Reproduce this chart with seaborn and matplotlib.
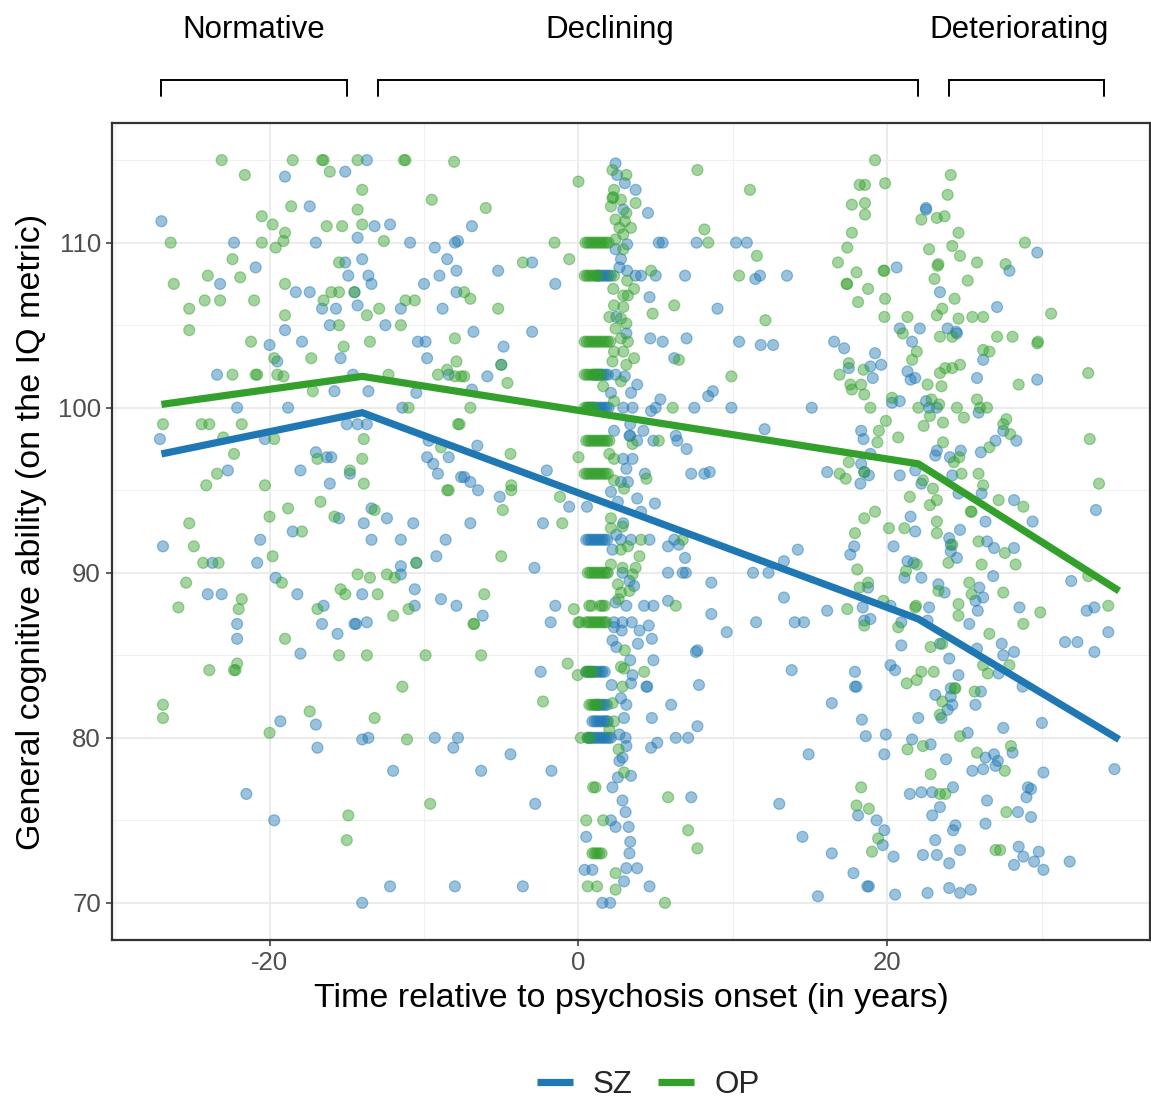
import matplotlib
matplotlib.use("Agg")
import numpy as np
import pandas as pd
import matplotlib.pyplot as plt
import matplotlib.transforms as mtransforms
from matplotlib.lines import Line2D
import seaborn as sns

# === data: (years from onset, IQ) ===
sz_points = [
    (-19.0, 114.0), (-15.1, 114.3), (-13.7, 115), (-27.0, 111.3), (-17.4, 112.2), (-22.3, 110), (-17.0, 110),
    (-13.2, 111.0), (-12.2, 111.1), (-14.3, 110.3), (-10.9, 110), (-9.3, 109.7), (-8.5, 109.0), (-7.9, 108.3),
    (-8.0, 110), (-7.8, 110.1), (-9.0, 108.0), (-10.0, 107.5), (-7.9, 107.0), (-8.8, 106.0), (-20.9, 108.5),
    (-23.2, 107.5), (-18.3, 107.0), (-17.4, 107.0), (-14.5, 107.0), (-16.6, 106.0), (-15.7, 106.0), (-14.3, 106.2),
    (-11.5, 106.0), (-15.1, 108.8), (-14.0, 109.0), (-14.9, 108.0), (-13.6, 108.0), (-13.4, 107.5), (-19.0, 104.7),
    (-17.9, 104.0), (-20.0, 103.8), (-16.1, 105.0), (-12.5, 105.0), (-10.4, 104.0), (-9.9, 104.0), (-19.5, 102.8),
    (-15.4, 103.0), (-9.8, 103.0), (-23.4, 102.0), (-14.6, 102.0), (-8.4, 102.0), (-15.8, 101.0), (-13.6, 101.0),
    (-10.5, 100.9), (-22.1, 100.0), (-18.8, 100.0), (-11.4, 100.0), (-15.0, 99.0), (-14.3, 99.0), (-13.7, 99.0),
    (-27.1, 98.1), (-20.3, 98.1), (-9.7, 98.0), (-17.0, 97.3), (-16.3, 97.0), (-16.0, 97.0), (-9.8, 97.0),
    (-9.4, 96.6), (-8.4, 97.0), (-22.7, 96.2), (-18.0, 96.2), (-14.8, 96.0), (-16.1, 95.4), (-9.1, 96.0),
    (-7.6, 95.8), (-13.4, 93.9), (-15.5, 93.3), (-12.4, 93.3), (-13.9, 93.0), (-10.7, 93.0),
    (-26.9, 91.6), (-20.6, 92.0), (-18.5, 92.5), (-13.4, 92.0), (-11.5, 92.0), (-8.6, 92.0), (-23.7, 90.6),
    (-20.8, 90.6), (-9.2, 91.0), (-11.5, 90.4), (-10.5, 90.6), (-24.0, 88.7), (-23.1, 88.7), (-19.6, 89.7),
    (-18.2, 88.7), (-14.0, 88.7), (-11.5, 89.9), (-10.6, 89.0), (-8.9, 88.4), (-7.9, 88.0), (-10.6, 88.0),
    (-16.5, 88.0), (-22.1, 86.9), (-22.1, 86.0), (-16.6, 86.9), (-14.5, 86.9), (-14.4, 86.9), (-13.7, 87.0),
    (-15.6, 86.3), (-18.0, 85.1), (-19.3, 81.0), (-17.0, 80.8), (-14.0, 79.9), (-13.6, 80.0), (-9.3, 80.0),
    (-7.8, 80.0), (-8.1, 79.4), (-16.9, 79.4), (-12.0, 78.0), (-21.5, 76.6), (-19.7, 75.0), (-12.2, 71.0),
    (-8.0, 71.0), (-14.0, 70.0),
    (-6.9, 111.0), (-5.2, 108.3), (-3.0, 108.8), (-1.5, 107.5), (-6.8, 104.6), (-3.0, 104.6), (-4.85, 103.7),
    (-5.0, 102.6), (-5.9, 101.9), (-6.9, 101.1), (-6.55, 97.7), (-7.4, 95.8), (-7.0, 95.5), (-6.5, 95.0),
    (-5.1, 94.6), (-2.05, 96.2), (-0.6, 94.0), (0.55, 94.0), (-7.0, 93.0), (-2.3, 93.0), (3.7, 113.2),
    (4.5, 111.8), (5.2, 110), (5.45, 110), (7.65, 110), (10.2, 110), (5.0, 108.0), (4.05, 108.0), (6.9, 108.0),
    (4.6, 106.7), (9.0, 106.0), (4.65, 104.2), (5.45, 104.0), (7.0, 104.2), (10.4, 104.0), (6.2, 103.0),
    (8.7, 101.0), (8.4, 100.7), (5.3, 100.5), (5.0, 100.0), (4.7, 99.8), (7.5, 100.0), (9.9, 100.0), (4.2, 98.6),
    (6.3, 98.3), (6.4, 98.0), (7.0, 97.5), (4.85, 98.0), (3.3, 98.3), (4.3, 96.0), (7.3, 96.0), (8.15, 96.0),
    (8.5, 96.1), (4.95, 94.2),
    (2.4, 114.8), (2.5, 114.1), (3.0, 113.6), (2.9, 112.0), (3.15, 109.9), (2.4, 109.6), (2.75, 109.0),
    (2.65, 108.5), (3.15, 108.3), (3.7, 108.0), (2.45, 105.5), (3.1, 104.5), (2.4, 102.0), (3.0, 101.9),
    (3.8, 101.4), (2.1, 100.9), (3.4, 100.9), (2.9, 100.0), (3.5, 100.0), (3.35, 99.0), (2.3, 98.6), (3.35, 98.3),
    (3.8, 98.0), (2.9, 96.9), (3.5, 96.9), (3.1, 96.3), (2.75, 95.5), (3.2, 95.5), (2.1, 94.9), (3.8, 94.5),
    (2.55, 94.3), (4.05, 93.7), (2.9, 93.0),
    (2.45, 92.3), (2.75, 92.0), (3.4, 92.0), (4.6, 92.0), (2.2, 91.4), (2.85, 90.0), (3.3, 89.5), (3.6, 89.2),
    (2.4, 88.2), (3.1, 88.0), (4.25, 88.0), (4.85, 88.0), (2.3, 87.0), (2.85, 87.0), (3.45, 87.0), (2.3, 86.7),
    (2.8, 86.5), (3.95, 86.5), (4.55, 86.8), (4.75, 86.0), (2.2, 85.9), (2.45, 85.5), (3.85, 85.7), (4.85, 84.7),
    (3.35, 84.7), (3.5, 83.8), (3.4, 83.3), (2.15, 83.2), (4.4, 83.1), (2.75, 82.4), (3.1, 82.0), (2.95, 81.2),
    (2.65, 80.2), (3.05, 80.0), (3.1, 79.5), (2.85, 78.8), (2.65, 78.6), (2.55, 77.6), (3.4, 77.7), (2.2, 77.0),
    (2.85, 76.2), (3.05, 75.5), (2.1, 75.0), (2.4, 74.6), (3.25, 74.6), (0.5, 74.0), (3.35, 73.7), (3.3, 73.0),
    (3.1, 72.1), (3.8, 72.1), (2.95, 71.3), (4.6, 71.0),
    (-2.85, 90.3), (-6.2, 87.4), (-1.5, 88.0), (-1.8, 87.0), (-2.45, 84.0), (-4.4, 79.0), (-6.3, 78.0),
    (-1.75, 78.0), (-2.8, 76.0), (-3.6, 71.0), (5.8, 91.6), (6.2, 92.0), (6.5, 91.7), (6.9, 90.9), (5.8, 90.0),
    (6.75, 90.0), (6.95, 90.0), (8.6, 89.4), (5.8, 88.3), (8.6, 87.5), (9.6, 86.4), (7.6, 85.2), (7.7, 85.3),
    (4.45, 83.1), (7.8, 83.2), (6.0, 82.0), (4.75, 81.2), (7.7, 80.7), (4.7, 79.4), (5.1, 79.7), (6.3, 80.0),
    (7.1, 80.0), (7.3, 76.4),
    (10.9, 110), (11.45, 107.8), (11.75, 108.0), (13.5, 108.0), (11.8, 103.8), (12.6, 103.8), (15.1, 100.0),
    (12.05, 98.7), (20.6, 108.5), (22.5, 112.0), (22.5, 112.1), (29.7, 109.4), (27.9, 108.3), (23.4, 107.0),
    (27.1, 106.1), (20.8, 104.8), (22.1, 104.8), (23.9, 104.8), (24.45, 104.6), (24.5, 104.5), (21.6, 104.0),
    (26.2, 102.9), (25.8, 101.8), (29.7, 101.7), (16.55, 104.0), (17.2, 103.6), (19.2, 103.3), (19.6, 102.6),
    (17.5, 102.4), (18.9, 102.5), (19.05, 101.8), (21.3, 102.2), (21.5, 101.7), (21.8, 101.8), (20.3, 100.3),
    (20.8, 100.4), (22.5, 100.4), (22.7, 100.0), (23.2, 100.0), (25.9, 99.7), (18.3, 98.6), (18.45, 98.1),
    (23.2, 97.4), (23.1, 97.1), (24.05, 97.0), (24.75, 97.4), (27.5, 98.6), (28.35, 98.0), (27.0, 98.0),
    (26.05, 97.3), (26.1, 94.8), (28.2, 94.4), (33.5, 93.8), (16.1, 96.1), (18.25, 95.4), (18.3, 96.6),
    (18.5, 96.1), (18.8, 95.9), (18.9, 97.2), (20.8, 95.9), (21.8, 96.2), (22.2, 95.4), (24.2, 95.9),
    (24.6, 94.8), (21.5, 93.4), (26.35, 93.1), (29.4, 93.1),
    (21.8, 92.5), (24.0, 92.1), (24.7, 92.6), (26.45, 91.9), (26.9, 91.5), (28.2, 91.5), (14.2, 91.4),
    (13.3, 90.7), (11.3, 90.0), (12.3, 90.0), (17.85, 91.6), (17.6, 91.1), (20.4, 91.6), (21.3, 90.7),
    (21.7, 90.6), (21.1, 89.7), (22.2, 89.7), (24.1, 91.7), (24.1, 91.3), (24.5, 90.9), (26.85, 89.8),
    (23.3, 89.3), (23.7, 88.8), (25.95, 89.1), (25.7, 88.3), (26.2, 88.5), (25.85, 87.7), (28.55, 87.9),
    (25.3, 86.9), (31.9, 89.5), (32.9, 87.7), (33.4, 87.9), (34.3, 86.4), (31.5, 85.8), (32.3, 85.8),
    (33.4, 85.2), (34.7, 78.1), (13.3, 88.5), (16.1, 87.7), (11.5, 87.0), (14.0, 87.0), (14.6, 87.0),
    (18.4, 87.9), (18.75, 89.1), (18.9, 87.2), (18.5, 87.1), (20.2, 88.0), (22.7, 87.9), (20.9, 87.0),
    (22.6, 87.1), (20.9, 85.6), (23.4, 85.7), (27.4, 85.7), (25.8, 85.4), (24.0, 84.8), (27.5, 85.0),
    (28.2, 85.2), (27.2, 83.9), (13.8, 84.1), (17.9, 84.0), (17.9, 83.1), (18.0, 83.1), (20.2, 84.4),
    (20.5, 84.1), (24.6, 83.8), (28.75, 83.1), (24.1, 83.0), (23.1, 82.6), (24.1, 82.5), (24.2, 82.0),
    (23.9, 81.7), (23.5, 81.2), (25.7, 82.0), (26.05, 82.8), (16.4, 82.1), (18.35, 81.1), (22.0, 81.2),
    (18.6, 80.1), (19.9, 80.2), (21.6, 79.9), (22.8, 79.6), (19.8, 79.0), (14.9, 79.0), (25.2, 80.3),
    (27.5, 80.6), (30.0, 80.9), (28.1, 79.1), (26.35, 78.8), (26.9, 79.0), (27.15, 78.6), (27.0, 78.3),
    (23.8, 78.7), (25.5, 78.0), (26.2, 78.1), (30.1, 77.9), (21.45, 76.6), (22.2, 76.7), (22.9, 76.7),
    (24.25, 77.0), (26.45, 76.2), (29.1, 77.0), (29.3, 76.9), (29.0, 76.4), (13.0, 76.0), (18.1, 75.3),
    (19.3, 75.0), (19.8, 74.4), (19.7, 73.5), (22.9, 75.3), (23.4, 75.8), (24.25, 74.4), (24.4, 74.7),
    (28.45, 75.5), (29.3, 75.2), (26.35, 74.8), (23.1, 73.8), (24.7, 73.2), (28.5, 73.4), (29.8, 73.1),
    (28.8, 72.8), (29.5, 72.5), (30.1, 72.0), (28.2, 72.3), (31.8, 72.5), (14.5, 74.0), (16.4, 73.0),
    (17.8, 71.8), (18.7, 71.0), (18.8, 71.0), (15.5, 70.4), (20.4, 72.8), (22.3, 72.9), (23.2, 72.9),
    (24.0, 72.4), (20.5, 70.5), (22.6, 70.6), (24.0, 70.9), (24.7, 70.6), (25.4, 70.8),
]

# rows of tied scores just after onset: IQ level -> years
sz_onset_rows = {
    108: [1.2, 1.35, 1.5, 1.65, 1.8, 1.95, 2.1],
    102: [1.0, 1.15, 1.3, 1.45, 1.6, 1.75, 1.9],
    100: [0.6, 0.75, 0.9, 1.05, 1.2, 1.35, 1.5, 1.65, 1.8, 1.95],
    92: [0.5, 0.65, 0.8, 0.95, 1.1, 1.25, 1.4, 1.55, 1.7, 1.85],
    84: [0.5, 0.65, 0.8, 0.95, 1.1, 1.25, 1.4, 1.55, 1.7],
    82: [1.1, 1.25, 1.4, 1.55, 1.7, 1.85],
    81: [0.9, 1.05, 1.2, 1.35, 1.5, 1.65, 1.8, 1.9],
    80: [0.6, 0.75, 0.9, 1.05, 1.2, 1.35, 1.5, 1.65, 1.8, 1.95, 2.1],
    72: [0.4, 0.9],
    70: [1.55, 2.05],
}

op_points = [
    (-23.1, 115), (-21.6, 114.1), (-18.5, 115), (-16.6, 115), (-16.5, 115), (-16.1, 114.3), (-14.3, 115),
    (-14.0, 113.2), (-11.3, 115), (-11.2, 115), (-9.5, 112.6), (-8.05, 114.9), (-26.4, 110), (-20.5, 111.6),
    (-19.8, 111.1), (-18.6, 112.2), (-14.3, 112.0), (-19.0, 110.6), (-19.1, 110.1), (-19.6, 109.7), (-20.5, 110),
    (-16.3, 111.0), (-15.3, 111.0), (-14.0, 111.1), (-12.6, 110.1), (-22.4, 109.0), (-24.0, 108.0),
    (-21.9, 107.9), (-26.2, 107.5), (-19.0, 107.5), (-25.2, 106.0), (-24.2, 106.5), (-23.2, 106.5),
    (-21.0, 106.5), (-16.0, 107.0), (-15.5, 107.0), (-14.5, 107.0), (-16.5, 106.5), (-13.7, 105.6),
    (-12.9, 106.0), (-11.2, 106.5), (-10.6, 106.5), (-15.5, 108.8), (-25.2, 104.7), (-19.0, 105.6),
    (-21.2, 104.0), (-15.5, 105.0), (-11.5, 105.0), (-15.2, 103.7), (-13.5, 104.0), (-8.0, 104.2),
    (-19.7, 103.0), (-17.3, 103.0), (-7.9, 102.8), (-22.4, 102.0), (-20.9, 102.0), (-20.8, 102.0),
    (-19.5, 102.0), (-19.1, 101.9), (-12.3, 102.0), (-9.1, 102.0), (-8.5, 102.3), (-8.0, 101.9), (-7.6, 101.9),
    (-17.2, 101.0), (-11.0, 100.0), (-26.9, 99.0), (-24.4, 99.0), (-23.9, 99.0), (-21.8, 99.0), (-7.8, 99.0),
    (-23.0, 98.2), (-19.7, 98.1), (-13.9, 98.1), (-8.9, 97.6), (-22.3, 97.2), (-16.9, 96.9), (-14.0, 96.9),
    (-23.4, 96.0), (-24.1, 95.3), (-20.3, 95.3), (-14.8, 96.2), (-13.9, 95.4), (-8.5, 95.0), (-8.4, 95.0),
    (-16.7, 94.3), (-18.8, 93.9), (-13.2, 93.8), (-20.0, 93.4), (-15.8, 93.4), (-25.2, 93.0),
    (-24.9, 91.6), (-17.9, 92.5), (-24.3, 90.6), (-23.3, 90.6), (-19.8, 91.0), (-10.5, 90.6), (-25.4, 89.4),
    (-21.8, 88.4), (-25.9, 87.9), (-22.0, 87.8), (-19.2, 89.4), (-14.3, 89.9), (-13.5, 89.7), (-12.4, 89.9),
    (-11.9, 89.7), (-15.4, 89.0), (-15.1, 88.7), (-13.0, 88.7), (-11.0, 87.8), (-16.9, 87.8), (-12.0, 87.4),
    (-19.0, 86.0), (-15.5, 85.0), (-13.7, 85.0), (-9.9, 85.0), (-23.9, 84.1), (-22.2, 84.1), (-22.3, 84.1),
    (-22.1, 84.5), (-11.4, 83.1), (-26.9, 82.0), (-26.9, 81.2), (-17.4, 81.6), (-13.2, 81.2), (-20.0, 80.3),
    (-11.1, 79.9), (-9.6, 76.0), (-14.9, 75.3), (-15.0, 73.8),
    (-6.0, 112.1), (-1.55, 110.0), (0.0, 113.7), (-3.6, 108.8), (-0.6, 109.0), (-7.4, 107.0), (-7.0, 106.6),
    (-5.2, 106.0), (-5.0, 102.6), (-7.4, 101.9), (-4.6, 101.5), (-7.0, 100.0), (-7.7, 99.0), (-4.4, 97.2),
    (-4.35, 95.3), (-4.35, 95.0), (-1.2, 94.6), (-4.9, 93.8), (-1.05, 93.0), (0.0, 97.0), (7.7, 114.4),
    (3.7, 112.4), (8.15, 110.8), (8.4, 110), (4.7, 108.3), (10.4, 108.0), (3.6, 107.2), (4.8, 105.7),
    (6.2, 106.2), (6.5, 102.9), (9.9, 101.9), (6.1, 100.0), (5.2, 98.0), (4.4, 95.7), (1.6, 101.3),
    (2.2, 114.4), (3.1, 114.1), (2.3, 113.2), (2.2, 112.7), (2.25, 112.75), (2.75, 112.6), (2.1, 112.2),
    (3.1, 111.8), (2.4, 111.4), (3.0, 111.3), (2.65, 110.9), (3.4, 110.9), (2.9, 110.5), (2.4, 110.2),
    (2.9, 109.6), (2.3, 108.0), (3.15, 107.7), (2.25, 107.2), (2.9, 106.8), (3.2, 106.8), (2.3, 106.2),
    (2.9, 106.1), (2.0, 105.5), (2.75, 105.4), (3.1, 105.1), (2.4, 104.8), (2.75, 104.2), (3.2, 104.0),
    (2.3, 103.4), (2.9, 103.4), (3.6, 103.0), (2.2, 102.8), (3.1, 102.6), (2.75, 101.6), (2.3, 100.4),
    (3.5, 97.8), (2.0, 97.2), (2.3, 96.9), (2.3, 95.6), (2.95, 95.1), (2.1, 93.3),
    (2.1, 92.7), (2.85, 92.8), (4.05, 92.0), (3.2, 91.6), (2.75, 91.4), (3.95, 91.0), (2.1, 90.5), (2.85, 90.3),
    (3.7, 90.3), (3.5, 89.9), (2.55, 89.3), (2.75, 88.8), (3.3, 88.9), (2.6, 88.4), (3.0, 85.3), (2.75, 84.3),
    (2.95, 84.2), (2.85, 83.1), (4.25, 84.0), (2.2, 82.1), (2.3, 81.0), (2.0, 80.5), (2.6, 79.3), (2.95, 77.9),
    (0.5, 75.0), (1.6, 75.0), (2.4, 71.8), (2.4, 70.8), (5.6, 70.0), (-5.0, 91.0), (-6.1, 88.7), (-6.8, 86.9),
    (-6.75, 86.9), (-0.3, 87.8), (0.0, 87.0), (-6.3, 85.0), (-0.7, 84.5), (-0.05, 83.8), (-2.3, 82.2),
    (6.75, 92.0), (6.3, 88.0), (5.8, 76.4), (7.1, 74.4), (7.7, 73.3),
    (11.1, 113.2), (11.55, 109.2), (12.1, 105.3), (19.2, 115), (18.2, 113.5), (18.55, 113.5), (19.85, 113.6),
    (17.7, 112.3), (18.55, 112.4), (18.55, 111.7), (17.7, 110.6), (17.4, 109.7), (16.8, 108.8), (18.0, 108.2),
    (17.35, 107.5), (17.4, 107.5), (18.75, 107.2), (18.1, 106.4), (19.85, 106.6), (19.8, 105.5),
    (19.75, 108.3), (19.8, 108.3), (21.3, 105.5), (24.1, 114.1), (23.9, 112.9), (22.2, 111.4), (23.2, 111.5),
    (23.7, 111.6), (24.6, 110.6), (28.9, 110), (22.7, 109.6), (24.2, 109.8), (24.7, 109.2), (23.25, 108.6),
    (23.3, 108.7), (25.8, 108.8), (27.65, 108.7), (23.05, 107.8), (25.2, 107.7), (24.35, 106.6), (23.55, 106.0),
    (23.2, 105.6), (24.6, 105.4), (25.5, 105.5), (26.2, 105.5), (30.6, 105.7), (21.0, 104.5), (24.2, 104.3),
    (23.4, 104.3), (27.1, 104.3), (28.1, 104.3), (29.7, 103.9), (29.75, 104.0), (21.9, 103.4), (21.6, 102.9),
    (26.2, 103.5), (26.6, 103.4), (23.75, 102.4), (24.2, 102.4), (24.7, 102.6), (23.4, 102.1), (28.5, 101.4),
    (33.0, 102.1), (17.5, 102.7), (16.9, 102.0), (18.45, 102.3), (17.6, 101.4), (17.7, 101.1), (18.3, 101.4),
    (18.5, 100.8), (22.6, 101.4), (23.5, 101.3), (18.9, 100.0), (20.3, 100.6), (22.0, 100.0), (22.85, 100.5),
    (23.35, 100.2), (22.75, 99.5), (24.5, 100.0), (24.95, 99.4), (25.8, 100.5), (26.0, 100.0), (26.45, 100.0),
    (19.9, 99.2), (19.45, 98.6), (19.35, 97.9), (20.7, 98.2), (22.35, 98.9), (23.6, 99.1), (23.6, 97.9),
    (24.3, 96.7), (24.65, 97.0), (27.5, 99.0), (27.7, 99.3), (27.95, 98.4), (26.6, 97.6), (25.9, 96.0),
    (26.2, 95.3), (27.2, 94.4), (28.8, 94.0), (33.1, 98.1), (33.7, 95.4), (16.9, 96.0), (17.3, 95.7),
    (17.5, 96.7), (18.5, 96.1), (22.3, 95.6), (22.95, 95.1), (24.8, 96.0), (21.45, 94.6), (23.2, 94.4),
    (22.75, 94.1), (25.4, 93.7), (25.45, 93.7), (18.5, 93.3), (19.2, 93.7), (23.2, 93.1),
    (17.9, 92.4), (20.1, 92.7), (21.1, 92.7), (23.2, 92.4), (25.9, 91.9), (27.6, 91.2), (28.3, 90.5),
    (18.05, 90.2), (21.9, 90.5), (21.2, 90.1), (24.2, 91.7), (23.95, 90.6), (26.1, 90.5), (25.3, 89.4),
    (23.3, 88.9), (25.45, 88.7), (27.5, 88.8), (29.9, 87.6), (28.8, 86.9), (24.6, 88.1), (24.6, 87.4),
    (33.0, 89.8), (34.3, 88.0), (17.4, 87.8), (18.2, 89.1), (18.75, 89.4), (18.5, 86.8), (19.75, 88.3),
    (21.8, 87.9), (21.85, 88.0), (20.7, 86.7), (22.8, 85.5), (23.55, 85.7), (26.6, 86.3), (26.2, 84.4),
    (27.9, 84.4), (26.5, 83.9), (22.2, 84.0), (21.25, 83.3), (21.9, 83.5), (23.0, 84.0), (24.35, 83.0),
    (24.4, 83.0), (23.55, 82.2), (23.4, 81.4), (25.65, 82.8), (21.3, 79.3), (22.3, 79.5), (24.7, 80.1),
    (28.0, 79.5), (25.8, 79.1), (27.6, 78.0), (22.8, 77.8), (18.3, 77.0), (23.4, 76.6), (23.75, 76.6),
    (18.0, 75.9), (18.8, 75.7), (19.4, 73.9), (19.0, 73.1), (27.7, 75.5), (27.0, 73.2), (27.3, 73.2),
]

op_onset_rows = {
    110: [0.45, 0.6, 0.75, 0.9, 1.05, 1.2, 1.35, 1.5, 1.65, 1.8, 1.95],
    108: [0.4, 0.55, 0.7, 0.85, 1.0, 1.15, 1.3],
    104: [0.4, 0.55, 0.7, 0.85, 1.0, 1.15, 1.3, 1.45, 1.6, 1.75, 1.9, 2.05],
    102: [0.4, 0.55, 0.7, 0.85, 1.0, 1.15, 1.3, 1.45],
    100: [0.4, 0.55, 0.7, 0.85, 1.0],
    98: [0.5, 0.65, 0.8, 0.95, 1.1, 1.25, 1.4, 1.55, 1.7, 1.85, 2.0],
    96: [0.4, 0.55, 0.7, 0.85, 1.0, 1.15, 1.3, 1.45, 1.6, 1.75, 1.9],
    90: [0.6, 0.75, 0.9, 1.05, 1.2, 1.35, 1.5, 1.65, 1.8, 1.9],
    88: [0.7, 0.85, 1.4, 1.55, 1.7],
    87: [0.1, 0.5, 0.65, 0.8, 0.95, 1.1, 1.25, 1.4, 1.55, 1.7, 1.8],
    84: [0.5, 0.65, 0.8, 0.95],
    82: [0.7, 0.85, 1.0, 1.15, 1.3],
    80: [0.15, 0.6, 0.75],
    77: [0.95, 1.1],
    73: [0.9, 1.05, 1.2, 1.35, 1.5],
    71: [0.6, 1.2],
}

# piecewise fitted trajectories
sz_line_x = [-27, -14, 22, 35]
sz_line_y = [97.2, 99.7, 87.2, 79.9]
op_line_x = [-27, -14, 22, 35]
op_line_y = [100.2, 101.9, 96.6, 88.9]

phase_labels = ["Normative", "Declining", "Deteriorating"]
phase_spans = [(-27, -15), (-13, 22), (24, 34)]
phase_label_x = [-21, 2, 28.5]

groups = ["SZ", "OP"]
palette = {"SZ": "#1F78B4", "OP": "#33A02C"}

# === build tables ===
rows = []
for g, pts, onset in [("SZ", sz_points, sz_onset_rows), ("OP", op_points, op_onset_rows)]:
    for t, iq in pts:
        rows.append({"group": g, "time": t, "iq": iq})
    for iq, ts in onset.items():
        for t in ts:
            rows.append({"group": g, "time": t, "iq": iq})
points = pd.DataFrame(rows)

lines = pd.concat([
    pd.DataFrame({"group": "SZ", "time": sz_line_x, "iq": sz_line_y}),
    pd.DataFrame({"group": "OP", "time": op_line_x, "iq": op_line_y}),
])

# === plot ===
sns.set_theme(style="whitegrid")
plt.rcParams["font.family"] = ["Liberation Sans", "DejaVu Sans"]
plt.rcParams["axes.unicode_minus"] = False

fig = plt.figure(figsize=(11.51, 11.05), dpi=100)
ax = fig.add_axes([112 / 1151, 1 - 940 / 1105, 1038 / 1151, 817 / 1105])

sns.scatterplot(data=points, x="time", y="iq", hue="group", hue_order=groups, palette=palette,
                alpha=0.45, s=62, edgecolor="face", linewidth=0.9, legend=False, ax=ax, zorder=3)
sns.lineplot(data=lines, x="time", y="iq", hue="group", hue_order=groups, palette=palette,
             linewidth=5.2, legend=False, ax=ax, zorder=4, solid_capstyle="butt")

ax.set_xlim(-30.2, 37.0)
ax.set_ylim(67.75, 117.25)
ax.set_xticks([-20, 0, 20])
ax.set_xticks([-30, -10, 10, 30], minor=True)
ax.set_yticks([70, 80, 90, 100, 110])
ax.set_yticks([75, 85, 95, 105, 115], minor=True)
ax.grid(which="major", color="#EBEBEB", linewidth=1.4)
ax.grid(which="minor", color="#F0F0F0", linewidth=0.8)
ax.set_axisbelow(True)
for sp in ax.spines.values():
    sp.set_visible(True)
    sp.set_color("#333333")
    sp.set_linewidth(1.6)
ax.tick_params(which="major", length=4, width=1.1, color="#333333", labelsize=18.5,
               labelcolor="#4D4D4D", pad=4, bottom=True, left=True)
ax.tick_params(which="minor", length=0)

ax.set_xlabel("Time relative to psychosis onset (in years)", fontsize=24.5, color="black", labelpad=6)
ax.set_ylabel("General cognitive ability (on the IQ metric)", fontsize=24.5, color="black", labelpad=8)

# phase brackets above the panel
trans = mtransforms.blended_transform_factory(ax.transData, ax.transAxes)
for label, (x0, x1), lx in zip(phase_labels, phase_spans, phase_label_x):
    ax.plot([x0, x0, x1, x1], [1.033, 1.0526, 1.0526, 1.033], transform=trans, color="black",
            linewidth=1.4, clip_on=False, solid_joinstyle="miter")
    ax.text(lx, 1.114, label, transform=trans, ha="center", va="center", fontsize=22.5, color="black")

handles = [Line2D([], [], color=palette[g], linewidth=5.2, solid_capstyle="butt") for g in groups]
fig.legend(handles, groups, loc="center", bbox_to_anchor=(0.563, 0.018), ncol=2, frameon=False,
           fontsize=22.5, handlelength=1.15, handletextpad=0.65, columnspacing=0.8)

fig.savefig("out.png", dpi=100)
